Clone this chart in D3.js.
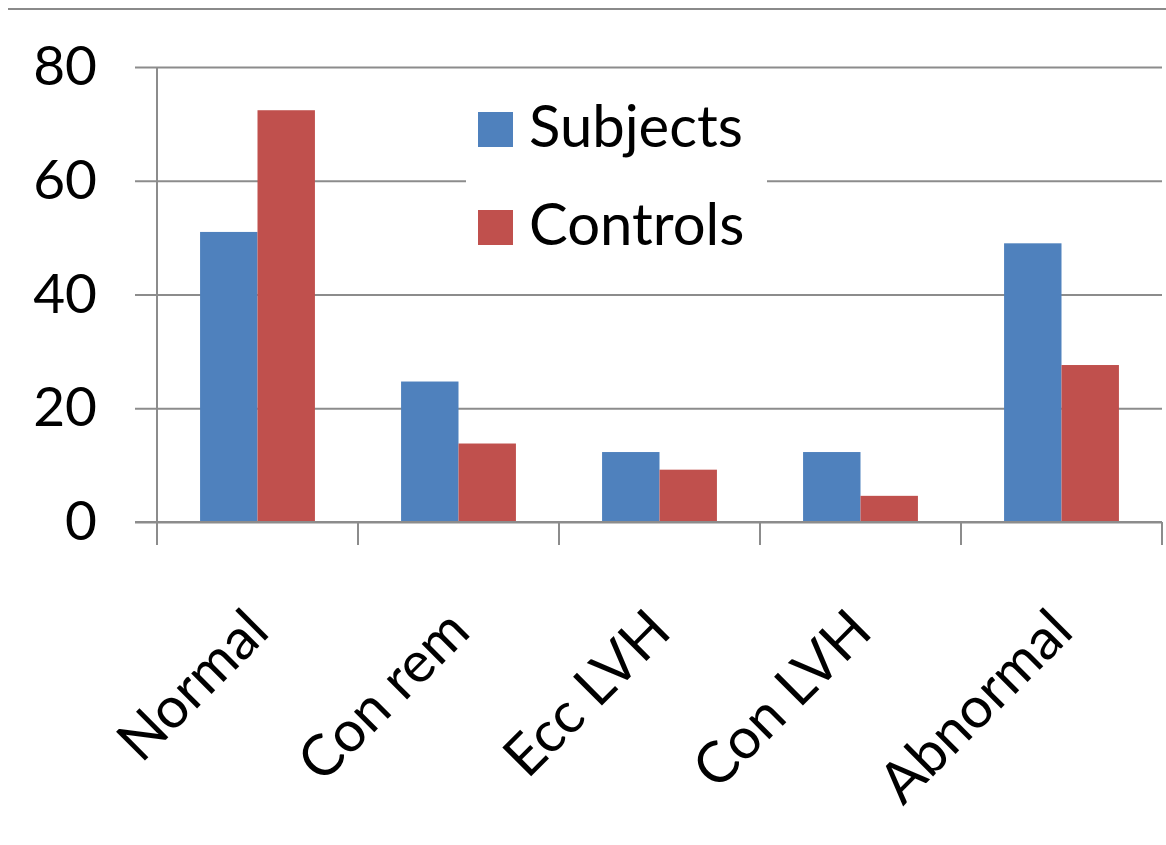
<!DOCTYPE html>
<html>
<head>
<meta charset="utf-8">
<script src="https://cdn.jsdelivr.net/npm/d3@7"></script>
<style>
  body { margin: 0; background: #fff; }
  svg { display: block; font-family: Lato, "Open Sans", sans-serif; }
</style>
</head>
<body>
<svg id="drawing_region"></svg>
<script>
// chart values
const categories = ['Normal', 'Con rem', 'Ecc LVH', 'Con LVH', 'Abnormal'];
const seriesNames = ['Subjects', 'Controls'];
const subjects = [51.0, 24.7, 12.3, 12.3, 49.0];
const controls = [72.4, 13.8, 9.2, 4.6, 27.6];
const yTicks = [0, 20, 40, 60, 80];

const colors = { Subjects: '#4F81BD', Controls: '#C0504D' };

var config = {
    width: 1166,
    height: 845,
    left: 157,
    right: 1162,
    top: 67,
    bottom: 522
};

const rows = categories.map( (c, i) => ({ category: c, Subjects: subjects[i], Controls: controls[i] }) );

const svg = d3.select('#drawing_region')
    .attr('width', config.width)
    .attr('height', config.height);

// frame line at top
svg.append('line')
    .attr('x1', 8).attr('x2', config.width)
    .attr('y1', 9).attr('y2', 9)
    .attr('stroke', '#8a8a8a').attr('stroke-width', 2);

const xscale = d3.scaleBand()
    .domain(categories)
    .range([config.left, config.right])
    .padding(0);

const xsub = d3.scaleBand()
    .domain(seriesNames)
    .range([0, xscale.bandwidth()])
    .paddingInner(0)
    .paddingOuter(0.75);

const yscale = d3.scaleLinear()
    .domain([0, 80])
    .range([config.bottom, config.top]);

// gridlines + y labels
const yaxis = d3.axisLeft(yscale)
    .tickValues(yTicks)
    .tickSize(-(config.right - config.left + 22))
    .tickPadding(38)
    .tickFormat(d3.format('d'));

const yaxis_group = svg.append('g')
    .attr('transform', `translate(${config.left - 22}, 0)`)
    .call(yaxis);
yaxis_group.select('.domain').remove();
yaxis_group.selectAll('.tick line')
    .attr('stroke', '#8c8c8c').attr('stroke-width', 2);
yaxis_group.selectAll('.tick text')
    .attr('font-size', 55)
    .attr('fill', '#000')
    .attr('font-family', 'Lato, sans-serif');

// y axis line
svg.append('line')
    .attr('x1', config.left).attr('x2', config.left)
    .attr('y1', config.top).attr('y2', config.bottom + 23)
    .attr('stroke', '#8c8c8c').attr('stroke-width', 2);

// legend box (blanks gridline behind it)
const legend = svg.append('g');
legend.append('rect')
    .attr('x', 466).attr('y', 88)
    .attr('width', 301).attr('height', 180)
    .attr('fill', '#fff');

seriesNames.forEach( (s, i) => {
    const ly = 112 + i * 98;
    legend.append('rect')
        .attr('x', 478).attr('y', ly)
        .attr('width', 35).attr('height', 35)
        .attr('fill', colors[s]);
    legend.append('text')
        .attr('x', 529).attr('y', ly + 35)
        .attr('font-size', 58)
        .attr('fill', '#000')
        .text(s);
});

// bars
const groups = svg.append('g').selectAll('g')
    .data(rows)
    .join('g')
    .attr('transform', d => `translate(${xscale(d.category)}, 0)`);

groups.selectAll('rect')
    .data(d => seriesNames.map(s => ({ key: s, value: d[s] })))
    .join('rect')
    .attr('x', d => xsub(d.key))
    .attr('y', d => yscale(d.value))
    .attr('width', xsub.bandwidth())
    .attr('height', d => yscale(0) - yscale(d.value))
    .attr('fill', d => colors[d.key]);

// x axis with category ticks at band edges
const xaxis_group = svg.append('g');
xaxis_group.append('line')
    .attr('x1', config.left - 22).attr('x2', config.right)
    .attr('y1', config.bottom).attr('y2', config.bottom)
    .attr('stroke', '#8c8c8c').attr('stroke-width', 2);

const edges = categories.map(c => xscale(c)).concat([xscale(categories[categories.length - 1]) + xscale.bandwidth()]);
xaxis_group.selectAll('line.edge')
    .data(edges.slice(1))
    .join('line')
    .attr('class', 'edge')
    .attr('x1', d => d).attr('x2', d => d)
    .attr('y1', config.bottom).attr('y2', config.bottom + 23)
    .attr('stroke', '#8c8c8c').attr('stroke-width', 2);

xaxis_group.selectAll('text')
    .data(categories)
    .join('text')
    .attr('transform', d => `translate(${xscale(d) + xscale.bandwidth() / 2 + 14}, 634) rotate(-45)`)
    .attr('text-anchor', 'end')
    .attr('font-size', 57)
    .attr('fill', '#000')
    .text(d => d);
</script>
</body>
</html>
